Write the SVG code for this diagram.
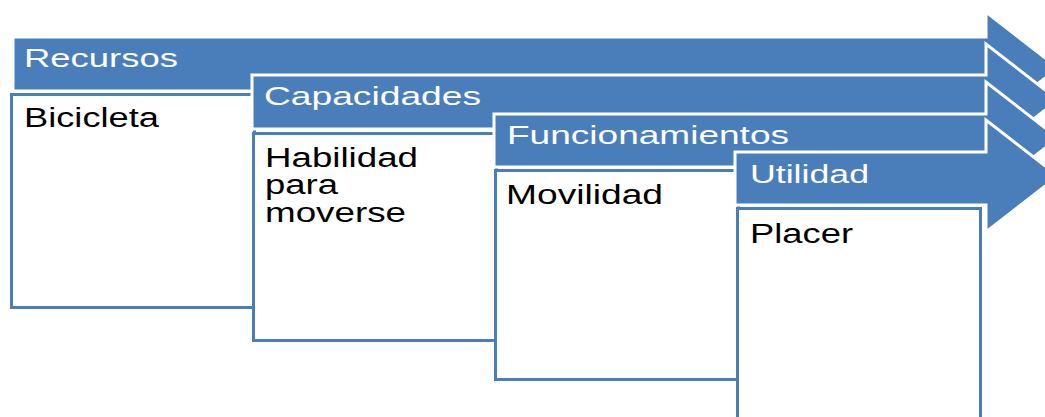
<svg xmlns="http://www.w3.org/2000/svg" width="1045" height="417" viewBox="0 0 1045 417">
  <defs>
    <style>
      .arrow { fill: #4a7ebb; stroke: #ffffff; stroke-width: 3; stroke-linejoin: miter; }
      .box { fill: #ffffff; stroke: #4a7ebb; stroke-width: 3; }
      .label { font-family: "Liberation Sans", Arial, sans-serif; font-size: 25px; fill: #ffffff; }
      .body { font-family: "Liberation Sans", Arial, sans-serif; font-size: 27px; fill: #000000; }
    </style>
  </defs>
  <rect x="0" y="0" width="1045" height="417" fill="#ffffff"/>
  <g id="connectors"></g>
  <g id="recursos">
    <path class="arrow" d="M13,37 L986,37 L986,12 L1058,68 L986,124 L986,91 L13,91 Z"/>
    <text class="label" x="24" y="67" textLength="154" lengthAdjust="spacingAndGlyphs">Recursos</text>
  </g>
  <g id="bicicleta">
    <rect class="box" x="11.5" y="94.5" width="243" height="213"/>
    <text class="body" x="24" y="127" textLength="135" lengthAdjust="spacingAndGlyphs">Bicicleta</text>
  </g>
  <g id="capacidades">
    <path class="arrow" d="M252,75 L986,75 L986,44 L1058,100 L986,156 L986,129 L252,129 Z"/>
    <text class="label" x="264" y="105" textLength="217" lengthAdjust="spacingAndGlyphs">Capacidades</text>
  </g>
  <g id="habilidad">
    <rect class="box" x="253.5" y="133.5" width="243" height="207"/>
    <text class="body" x="265" y="167" textLength="153" lengthAdjust="spacingAndGlyphs">Habilidad</text>
    <text class="body" x="265" y="194" textLength="73" lengthAdjust="spacingAndGlyphs">para</text>
    <text class="body" x="265" y="222" textLength="141" lengthAdjust="spacingAndGlyphs">moverse</text>
  </g>
  <g id="funcionamientos">
    <path class="arrow" d="M494,114 L986,114 L986,82 L1058,138 L986,194 L986,167 L494,167 Z"/>
    <text class="label" x="507" y="144" textLength="282" lengthAdjust="spacingAndGlyphs">Funcionamientos</text>
  </g>
  <g id="movilidad">
    <rect class="box" x="495.5" y="170.5" width="243" height="209"/>
    <text class="body" x="506" y="204" textLength="157" lengthAdjust="spacingAndGlyphs">Movilidad</text>
  </g>
  <g id="utilidad">
    <path class="arrow" d="M735,152 L986,152 L986,120 L1058,176 L986,232 L986,205 L735,205 Z"/>
    <text class="label" x="750" y="183" textLength="119" lengthAdjust="spacingAndGlyphs">Utilidad</text>
  </g>
  <g id="placer">
    <rect class="box" x="737.5" y="208.5" width="243" height="215"/>
    <text class="body" x="750" y="243" textLength="103" lengthAdjust="spacingAndGlyphs">Placer</text>
  </g>
</svg>
